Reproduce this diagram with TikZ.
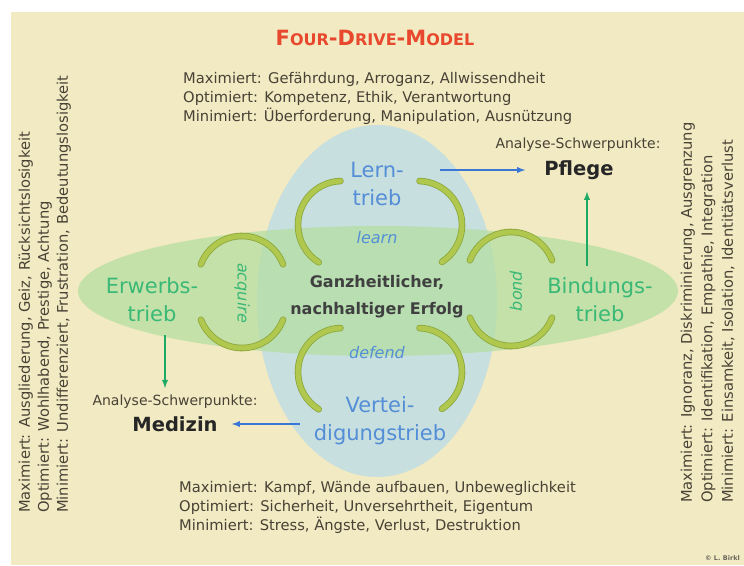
\documentclass[tikz,border=0pt]{standalone}
\usepackage{fontspec}
\setmainfont{DejaVu Sans}
\usepackage{xcolor}
\usepackage{tikz}
\usetikzlibrary{shapes,arrows,positioning,fit}

\definecolor{cream}{RGB}{242,234,194}
\definecolor{lernblue}{RGB}{200,223,224}
\definecolor{bindgreen}{RGB}{178,222,160}
\definecolor{drivblue}{RGB}{84,142,214}
\definecolor{drivgreen}{RGB}{58,184,118}
\definecolor{arrowblue}{RGB}{58,118,212}
\definecolor{arrowgreen}{RGB}{28,170,100}
\definecolor{titlered}{RGB}{232,72,46}
\definecolor{textgray}{RGB}{72,66,54}
\definecolor{ringfill}{RGB}{176,200,78}
\definecolor{ringedge}{RGB}{140,166,60}

\newcommand{\fsz}[2]{\fontsize{#1}{#2}\selectfont}

\begin{document}
\begin{tikzpicture}[x=1pt, y=1pt,
        drive/.style={align=center, font=\fsz{21}{28}, text=drivblue, inner sep=1pt},
        greendrive/.style={drive, text=drivgreen},
        verb/.style={font=\fsz{16}{18}\itshape, inner sep=1pt},
        block/.style={align=left, font=\fsz{14.7}{19}, text=textgray, inner sep=0pt},
        focus/.style={font=\fsz{14}{15}, text=textgray, inner sep=1pt},
        target/.style={font=\fsz{19.5}{22}\bfseries, text=black!85, inner sep=1pt},
        ringarc/.style={line width=5pt, draw=ringfill, line cap=round,
            preaction={draw=ringedge, line width=6.6pt, line cap=round}},
        arrow/.style={->, >=latex, line width=1.8pt}
    ]
        % Background
        \useasboundingbox (0,0) rectangle (744,-565);
        \fill[cream] (11,-12) rectangle (744,-565);

        % Drive fields
        \fill[lernblue] (377,-301) ellipse [x radius=120, y radius=176];
        \fill[bindgreen, opacity=0.72] (378,-291) ellipse [x radius=300, y radius=65];

        % Title
        \node[font=\bfseries, text=titlered] (title) at (375,-38)
            {{\fsz{21}{21}F}{\fsz{16}{16}OUR}{\fsz{21}{21}-D}{\fsz{16}{16}RIVE}{\fsz{21}{21}-M}{\fsz{16}{16}ODEL}};

        % Drives
        \node[drive] (lern) at (377,-184) {Lern-\\trieb};
        \node[drive] (vertei) at (380,-421) {Vertei-\\digungstrieb};
        \node[greendrive] (erwerb) at (152,-300) {Erwerbs-\\trieb};
        \node[greendrive] (bindung) at (600,-300) {Bindungs-\\trieb};

        % Centre
        \node[align=center, font=\fsz{16}{27}\bfseries, text=black!75] (erfolg) at (377,-297)
            {Ganzheitlicher,\\nachhaltiger Erfolg};

        % Verbs
        \node[verb, text=drivblue] (learn) at (377,-238) {learn};
        \node[verb, text=drivblue] (defend) at (377,-353) {defend};
        \node[verb, text=drivgreen, rotate=-90] (acquire) at (242,-293) {acquire};
        \node[verb, text=drivgreen, rotate=90] (bond) at (516,-291) {bond};

        % Rings
        \draw[ringarc] (342,-225) ++(92:44) arc (92:238:44);
        \draw[ringarc] (418,-225) ++(88:44) arc (88:-57:44);
        \draw[ringarc] (342,-372) ++(92:44) arc (92:238:44);
        \draw[ringarc] (418,-372) ++(88:44) arc (88:-57:44);
        \draw[ringarc] (242,-280) ++(159:44) arc (159:21:44);
        \draw[ringarc] (242,-304) ++(201:44) arc (201:339:44);
        \draw[ringarc] (511,-276) ++(159:44) arc (159:21:44);
        \draw[ringarc] (511,-302) ++(201:44) arc (201:339:44);

        % Analysis focus
        \node[focus] (anapfl) at (578,-145) {Analyse-Schwerpunkte:};
        \node[target] (pflege) at (579,-170) {Pflege};
        \node[focus] (anamed) at (175,-402) {Analyse-Schwerpunkte:};
        \node[target] (medizin) at (175,-424) {Medizin};

        % Arrows
        \draw[arrow, arrowblue, shorten <=35pt, shorten >=18pt] (lern.east |- pflege.west) -- (pflege.west);
        \draw[arrow, arrowblue, shorten <=13pt, shorten >=13pt] (vertei.west |- medizin.east) -- (medizin.east);
        \draw[arrow, arrowgreen, shorten <=11pt, shorten >=11pt] (bindung.north -| 587,0) -- (pflege.south -| 587,0);
        \draw[arrow, arrowgreen, shorten <=12pt, shorten >=6pt] ([xshift=13pt]erwerb.south) -- ([xshift=13pt]erwerb.south |- anamed.north);

        % Side notes
        \node[block, anchor=north west] (top) at (183,-72.5)
            {Maximiert: Gefährdung, Arroganz, Allwissendheit\\
             Optimiert: Kompetenz, Ethik, Verantwortung\\
             Minimiert: Überforderung, Manipulation, Ausnützung};
        \node[block, anchor=north west] (bottom) at (179,-481.5)
            {Maximiert: Kampf, Wände aufbauen, Unbeweglichkeit\\
             Optimiert: Sicherheit, Unversehrtheit, Eigentum\\
             Minimiert: Stress, Ängste, Verlust, Destruktion};
        \node[block, anchor=north west, rotate=90] (left) at (18.5,-513)
            {Maximiert: Ausgliederung, Geiz, Rücksichtslosigkeit\\
             Optimiert: Wohlhabend, Prestige, Achtung\\
             Minimiert: Undifferenziert, Frustration, Bedeutungslosigkeit};
        \node[block, anchor=north west, rotate=90, font=\fsz{14.7}{20.5}] (right) at (680.5,-503)
            {Maximiert: Ignoranz, Diskriminierung, Ausgrenzung\\
             Optimiert: Identifikation, Empathie, Integration\\
             Minimiert: Einsamkeit, Isolation, Identitätsverlust};

        % Credit
        \node[font=\fsz{6.5}{7}\bfseries, text=textgray!80, anchor=east, inner sep=0pt] (credit) at (740,-558) {© L. Birkl};
    \end{tikzpicture}
\end{document}
